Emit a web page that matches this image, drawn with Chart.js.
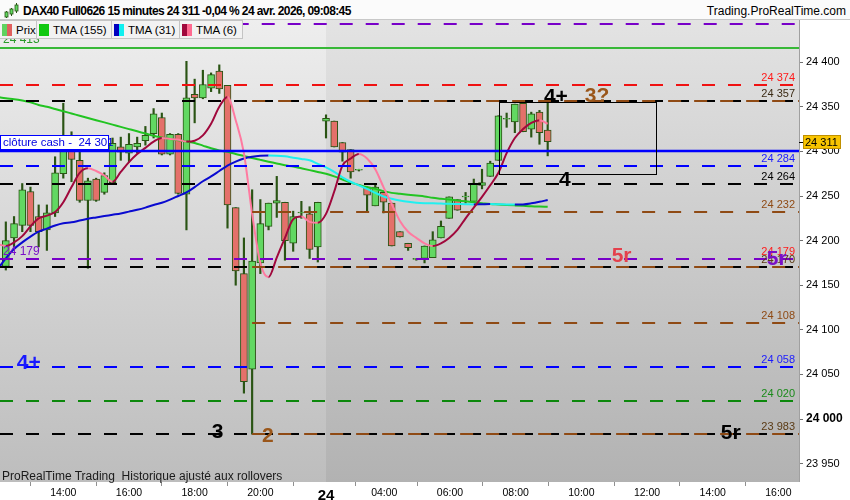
<!DOCTYPE html>
<html><head><meta charset="utf-8">
<script src="https://cdn.jsdelivr.net/npm/chart.js@4.4.1/dist/chart.umd.min.js"></script>
<style>
html,body{margin:0;padding:0;background:#fff;}
#wrap{position:relative;width:850px;height:500px;overflow:hidden;font-family:"Liberation Sans",Arial,sans-serif;}
#c{position:absolute;left:0;top:0;}
#hdr{position:absolute;left:0;top:0;width:850px;height:20px;background:#fbfbfb;border-bottom:1px solid #c8c8c8;box-sizing:border-box;}
#title{position:absolute;left:23px;top:4px;font-size:12px;font-weight:bold;letter-spacing:-0.6px;color:#000;white-space:nowrap;}
#site{position:absolute;right:4px;top:4px;font-size:12px;color:#000;white-space:nowrap;}
#ico{position:absolute;left:3px;top:2px;}
#leg{position:absolute;left:0;top:20px;height:19px;background:#f2f2f2;border:1px solid #c4c4c4;border-left:none;display:flex;font-size:11.5px;color:#000;box-sizing:border-box;}
.it{display:flex;align-items:center;border-right:1px solid #c4c4c4;padding-left:2px;height:17px;box-sizing:border-box;white-space:nowrap;}
.it:last-child{border-right:none;}
.ic{display:inline-block;width:10px;height:12px;margin-right:4px;}
#foot{position:absolute;left:2px;top:469px;font-size:12px;color:#1a1a1a;white-space:nowrap;}
</style></head>
<body>
<div id="wrap">
<canvas id="c" width="850" height="500"></canvas>
<div id="hdr">
<svg id="ico" width="18" height="17"><g stroke="#2a5414" stroke-width="1"><line x1="3.5" y1="9" x2="3.5" y2="16"/><line x1="8.5" y1="6" x2="8.5" y2="14"/><line x1="13.5" y1="1" x2="13.5" y2="11"/></g><rect x="2" y="10" width="3" height="5" fill="#62d862" stroke="#2a5414" stroke-width="0.8"/><rect x="7" y="7" width="3" height="5" fill="#62d862" stroke="#2a5414" stroke-width="0.8"/><rect x="12" y="3" width="3" height="6" fill="#62d862" stroke="#2a5414" stroke-width="0.8"/></svg>
<div id="title">DAX40 Full0626 15 minutes 24 311 -0,04 % 24 avr. 2026, 09:08:45</div>
<div id="site">Trading.ProRealTime.com</div>
</div>
<div id="leg">
<div class="it" style="width:37px"><i class="ic" style="background:linear-gradient(90deg,#5fd35f 50%,#e0605e 50%)"></i>Prix</div>
<div class="it" style="width:75px"><i class="ic" style="background:#10c810"></i>TMA (155)</div>
<div class="it" style="width:68px"><i class="ic" style="background:linear-gradient(90deg,#0000c0 50%,#10f0f0 50%)"></i>TMA (31)</div>
<div class="it" style="width:62px"><i class="ic" style="background:linear-gradient(90deg,#a0083c 50%,#ff6a90 50%)"></i>TMA (6)</div>
</div>
<div id="foot">ProRealTime Trading&nbsp; Historique ajusté aux rollovers</div>
</div>
<script>
// ---- data ----
const candleIndex = [-7,-6,-5,-4,-3,-2,-1,0,1,2,3,4,5,6,7,8,9,10,11,12,13,14,15,16,17,18,19,20,21,22,23,24,25,26,27,28,29,30,31,32,33,34,35,36,37,38,39,40,41,42,43,44,45,46,47,48,49,50,51,52,53,54,55,56,57,58,59];
const openVals  = [24171,24203,24217,24255,24227,24212,24231,24275,24302,24290,24245,24269,24254,24265,24305,24298,24305,24312,24320,24338,24297,24319,24252,24364,24360,24371,24390,24374,24237,24163,24056,24175,24216,24242,24243,24197,24231,24230,24193,24334,24334,24310,24302,24279,24260,24239,24254,24242,24210,24197,24179,24180,24181,24203,24225,24246,24249,24244,24262,24272,24290,24336,24333,24354,24325,24344,24324];
const highVals  = [24221,24227,24264,24260,24240,24240,24294,24354,24322,24300,24270,24270,24276,24315,24316,24320,24316,24328,24348,24343,24320,24320,24401,24381,24391,24388,24397,24374,24237,24203,24257,24246,24242,24272,24243,24233,24244,24238,24243,24341,24334,24310,24302,24280,24260,24262,24254,24242,24210,24197,24180,24194,24210,24222,24249,24246,24254,24269,24280,24289,24340,24343,24353,24354,24344,24346,24355];
const lowVals   = [24167,24193,24210,24210,24193,24189,24227,24270,24266,24243,24169,24244,24252,24264,24290,24288,24298,24307,24315,24296,24296,24252,24212,24332,24359,24367,24365,24214,24150,24029,23983,24163,24212,24226,24178,24188,24225,24180,24176,24315,24305,24289,24270,24278,24232,24239,24231,24194,24204,24189,24178,24175,24181,24203,24225,24234,24242,24244,24258,24272,24290,24327,24321,24322,24316,24308,24295];
const closeVals = [24200,24219,24257,24217,24210,24231,24276,24302,24291,24245,24267,24245,24273,24309,24299,24308,24309,24318,24342,24297,24319,24253,24360,24360,24375,24386,24370,24240,24166,24042,24177,24219,24242,24245,24200,24227,24232,24190,24243,24337,24305,24299,24277,24280,24251,24260,24243,24194,24204,24192,24180,24194,24201,24216,24249,24234,24250,24264,24265,24287,24340,24337,24353,24322,24342,24321,24311];

const maIndex = [-8,-7,-6,-5,-4,-3,-2,-1,0,1,2,3,4,5,6,7,8,9,10,11,12,13,14,15,16,17,18,19,20,21,22,23,24,25,26,27,28,29,30,31,32,33,34,35,36,37,38,39,40,41,42,43,44,45,46,47,48,49,50,51,52,53,54,55,56,57,58,59];
const tma155 = [24361,24359.5,24358.5,24357,24355,24352,24350,24347.5,24345,24342.5,24340,24337.5,24335,24332.5,24330,24327.5,24325,24322.5,24320,24317.5,24315.5,24314,24312.5,24311,24309.5,24306.5,24303.5,24301,24299.5,24297,24295,24292.5,24290.5,24288.5,24286.5,24284.5,24283,24281,24279,24277,24275,24272,24268.5,24265,24262.5,24260,24258,24255.5,24253.5,24252.5,24251.5,24250.5,24249.5,24248,24247,24246,24245,24244,24243,24242,24241,24240.5,24240,24239.5,24239,24238.5,24238.2,24238];
const tma31 = [24168,24180,24190.5,24198,24204.5,24210,24213.5,24217,24219.5,24220.5,24222.5,24224.5,24226,24227.5,24229,24230.5,24232.5,24234.5,24237,24240,24242.5,24246,24250,24254,24260,24266.5,24272,24278,24284,24288.5,24292,24294,24295,24295.3,24295.2,24294.5,24293,24291.5,24290,24286,24282,24277,24271,24266,24262,24258,24253.5,24249.5,24247,24245,24243.5,24242.5,24242,24241.8,24241.5,24241.2,24241,24240.8,24240.5,24240.7,24240.9,24240.7,24240.5,24240.4,24240.6,24241.8,24243.5,24245.5];
const tma6 = [24196,24194,24198,24205,24216,24225,24228,24232,24243,24260,24276,24281,24278,24273,24266,24277,24288,24297,24304,24311,24315,24314,24313,24311,24312,24318,24331,24350,24361,24335,24298,24230,24175,24159,24181,24203,24224,24227,24221,24220,24230,24255,24284,24292,24297,24292,24280,24260,24241,24222,24210,24203,24197,24194,24197,24203,24212,24225,24237,24249,24262,24276,24298,24315,24325,24332,24335,24331];

const xTickPos = [0,8,16,24,32,39.1,47.1,55.1,63.1,71.1,79.1,87.1];
const xTickLabels = ['14:00','16:00','18:00','20:00','24','04:00','06:00','08:00','10:00','12:00','14:00','16:00'];
const yTickValues = [23950,24000,24050,24100,24150,24200,24250,24300,24350,24400];

const levelValues = [24443,24416,24374,24357,24357,24301,24284,24264,24232,24179,24170,24170,24108,24058,24020,23983,23983];
const rightLabelValues = [24374,24357,24284,24264,24232,24179,24170,24108,24058,24020,23983];
const lastPrice = 24311;
const cashClose = 24301;
const cashLabel = 'clôture cash -  24 301';
const leftLabelTexts = ['24 413','24 179'];
const leftLabelValues = [24416,24179];
const annoTexts = ['4+','3?','4','5r','5r','5r','3','2','4+'];
const annoX = [60.0,65.0,61.1,68.0,86.9,81.3,18.8,24.9,-4.2];
const annoY = [24361,24362,24268,24183,24179,23984,23985,23981,24063];
const boxX = [53.1,72.2];
const boxY = [24274,24355];
const sessionStart = 31.96;

// ---- styles (separate from data) ----
const PURPLE='#7800c8', RED='#f01212', BLACK='#000000', BROWN='#8f4a14', BLUE='#0000ff', DGREEN='#0c880c', LGREEN='#38b838';
const levelStyle = [
  {c:PURPLE,dash:true,from:21,w:2},
  {c:LGREEN,dash:false,from:null,w:2},
  {c:RED,dash:true,from:null,w:2},
  {c:BLACK,dash:true,from:null,w:2},
  {c:BROWN,dash:true,from:23,w:2},
  {c:BLUE,dash:false,from:null,w:2.5},
  {c:BLUE,dash:true,from:null,w:2},
  {c:BLACK,dash:true,from:null,w:2},
  {c:BROWN,dash:true,from:23,w:2},
  {c:PURPLE,dash:true,from:null,w:2},
  {c:BLACK,dash:true,from:null,w:2},
  {c:BROWN,dash:true,from:23,w:2},
  {c:BROWN,dash:true,from:23,w:2},
  {c:BLUE,dash:true,from:null,w:2},
  {c:DGREEN,dash:true,from:null,w:2},
  {c:BLACK,dash:true,from:null,w:2},
  {c:BROWN,dash:true,from:23,w:2}
];
const rightLabelColors = ['#ff1a1a','#3b2a14','#1a1aff','#000000','#8f4a14','#ff1a1a','#5a3a14','#8f4a14','#1a1aff','#1a8a1a','#5a3a14'];
const leftLabelColors = ['#2a9a2a','#7a10c8'];
const annoColors = ['#000000','#9a561a','#000000','#e4404c','#7a10c8','#000000','#000000','#9a561a','#1a1aff'];

const fmt = v => { const s = String(Math.round(v)); return s.slice(0, s.length-3) + ' ' + s.slice(-3); };
const FONT = '"Liberation Sans", Arial, sans-serif';
const WICK = '#2a5414';
const UPC = '#62d862', DNC = '#e4706a';

const bgPlugin = {
  id:'bg',
  beforeDraw(chart){
    const {ctx, chartArea:a, scales:{x}} = chart;
    ctx.save();
    ctx.fillStyle='#ffffff'; ctx.fillRect(0,0,chart.width,chart.height);
    const split = Math.round(x.getPixelForValue(sessionStart));
    let g = ctx.createLinearGradient(0,a.top,0,a.bottom);
    g.addColorStop(0,'#eeeeee'); g.addColorStop(1,'#bdbdbd');
    ctx.fillStyle=g; ctx.fillRect(a.left,a.top,split-a.left,a.bottom-a.top);
    let g2 = ctx.createLinearGradient(0,a.top,0,a.bottom);
    g2.addColorStop(0,'#e3e3e3'); g2.addColorStop(1,'#b2b2b2');
    ctx.fillStyle=g2; ctx.fillRect(split,a.top,a.right-split,a.bottom-a.top);
    ctx.restore();
  }
};

const overlayPlugin = {
  id:'overlay',
  afterDatasetsDraw(chart){
    const {ctx, chartArea:a, scales:{x,y}} = chart;
    ctx.save();
    ctx.beginPath(); ctx.rect(a.left,a.top,a.right-a.left,a.bottom-a.top); ctx.clip();
    levelValues.forEach((v,k)=>{
      const s = levelStyle[k];
      const py = Math.round(y.getPixelForValue(v));
      const x0 = s.from===null ? a.left : x.getPixelForValue(s.from);
      ctx.strokeStyle = s.c; ctx.lineWidth = s.w;
      ctx.setLineDash(s.dash ? [13,13] : []);
      ctx.lineDashOffset = 0;
      ctx.beginPath(); ctx.moveTo(x0, py); ctx.lineTo(a.right, py); ctx.stroke();
    });
    ctx.setLineDash([]);
    const bx0 = x.getPixelForValue(boxX[0]), bx1 = x.getPixelForValue(boxX[1]);
    const by0 = y.getPixelForValue(boxY[1]), by1 = y.getPixelForValue(boxY[0]);
    ctx.strokeStyle='#000'; ctx.lineWidth=1;
    ctx.strokeRect(Math.round(bx0)+0.5, Math.round(by0)+0.5, Math.round(bx1-bx0), Math.round(by1-by0));
    ctx.font = '11px '+FONT; ctx.textAlign='right'; ctx.textBaseline='middle';
    rightLabelValues.forEach((v,k)=>{
      ctx.fillStyle = rightLabelColors[k];
      ctx.fillText(fmt(v), a.right-4, y.getPixelForValue(v)-7);
    });
    ctx.textAlign='left';
    ctx.font = '12px '+FONT;
    leftLabelTexts.forEach((t,k)=>{
      ctx.fillStyle = leftLabelColors[k];
      ctx.fillText(t, 3, y.getPixelForValue(leftLabelValues[k])-8);
    });
    const cy = Math.round(y.getPixelForValue(cashClose));
    ctx.fillStyle='#ffffff'; ctx.fillRect(0, cy-16, 109, 15);
    ctx.strokeStyle='#0000ff'; ctx.lineWidth=1; ctx.strokeRect(0.5, cy-15.5, 108, 14);
    ctx.fillStyle='#0000e0'; ctx.font = '11.5px '+FONT; ctx.fillText(cashLabel, 3, cy-8);
    ctx.font = 'bold 21px '+FONT; ctx.textAlign='center'; ctx.textBaseline='middle';
    annoTexts.forEach((t,k)=>{
      ctx.fillStyle = annoColors[k];
      ctx.fillText(t, x.getPixelForValue(annoX[k]), y.getPixelForValue(annoY[k]));
    });
    ctx.restore();
  },
  afterDraw(chart){
    const {ctx, chartArea:a, scales:{y}} = chart;
    ctx.save();
    ctx.strokeStyle='#a0a0a0'; ctx.lineWidth=1;
    ctx.beginPath(); ctx.moveTo(a.right+0.5, a.top); ctx.lineTo(a.right+0.5, a.bottom); ctx.stroke();
    const py = Math.round(y.getPixelForValue(lastPrice));
    ctx.fillStyle='#f8c400'; ctx.fillRect(a.right+4, py-7, 38, 14);
    ctx.strokeStyle='#c09000'; ctx.strokeRect(a.right+4.5, py-6.5, 37, 13);
    ctx.strokeStyle='#000'; ctx.beginPath(); ctx.moveTo(a.right, py+0.5); ctx.lineTo(a.right+4, py+0.5); ctx.stroke();
    ctx.fillStyle='#000'; ctx.font='11px '+FONT; ctx.textAlign='left'; ctx.textBaseline='middle';
    ctx.fillText(fmt(lastPrice), a.right+6, py+0.5);
    ctx.restore();
  }
};

const upDown = (up, dn) => ({ borderColor: c => (c.p1.parsed.y >= c.p0.parsed.y ? up : dn) });

new Chart(document.getElementById('c'), {
  type:'bar',
  data:{ datasets:[
    { type:'bar', label:'wick', data: candleIndex.map((xv,k)=>({x:xv, y:[lowVals[k], highVals[k]]})),
      backgroundColor: WICK, barThickness:1.5, grouped:false, order:6 },
    { type:'bar', label:'body', data: candleIndex.map((xv,k)=>({x:xv, y:[openVals[k], closeVals[k]]})),
      backgroundColor: candleIndex.map((xv,k)=> closeVals[k] >= openVals[k] ? UPC : DNC),
      borderColor: WICK, borderWidth:1, borderSkipped:false, barThickness:7, grouped:false, order:5 },
    { type:'line', label:'TMA (155)', data: maIndex.map((xv,k)=>({x:xv, y:tma155[k]})),
      borderColor:'#22c422', borderWidth:2, pointRadius:0, cubicInterpolationMode:'monotone', order:3 },
    { type:'line', label:'TMA (31)', data: maIndex.map((xv,k)=>({x:xv, y:tma31[k]})),
      borderColor:'#0a0ad0', segment: upDown('#0a0ad0','#20f0f0'), borderWidth:2, pointRadius:0, cubicInterpolationMode:'monotone', order:2 },
    { type:'line', label:'TMA (6)', data: maIndex.map((xv,k)=>({x:xv, y:tma6[k]})),
      borderColor:'#a0083c', segment: upDown('#a0083c','#ff7aa0'), borderWidth:2, pointRadius:0, cubicInterpolationMode:'monotone', order:1 }
  ]},
  options:{
    responsive:false, animation:false, devicePixelRatio:1,
    layout:{ padding:{ top:20, left:0, right:0, bottom:0 } },
    plugins:{ legend:{display:false}, tooltip:{enabled:false} },
    scales:{
      x:{ type:'linear', min:-7.71, max:89.61, offset:false,
        grid:{ display:true, drawOnChartArea:false, drawTicks:true, tickLength:4, color:'#909090' },
        border:{ display:false },
        afterBuildTicks: ax => { ax.ticks = xTickPos.map(v=>({value:v})); },
        afterFit: ax => { ax.height = 18; },
        ticks:{ autoSkip:false, maxRotation:0, minRotation:0, padding:1, color:'#000',
          font: c => (c.index===4 ? {family:FONT, size:15, weight:'bold'} : {family:FONT, size:10.5}),
          callback: (v, i) => xTickLabels[i] }
      },
      y:{ type:'linear', position:'right', min:23929.4, max:24447.3,
        grid:{ display:true, drawOnChartArea:false, drawTicks:true, tickLength:4, color:'#707070' },
        border:{ display:false },
        afterBuildTicks: ax => { ax.ticks = yTickValues.map(v=>({value:v})); },
        afterFit: ax => { ax.width = 51; },
        ticks:{ padding:3, color:'#000',
          font: c => (c.tick && c.tick.value===24000 ? {family:FONT, size:12, weight:'bold'} : {family:FONT, size:11}),
          callback: v => fmt(v) }
      }
    }
  },
  plugins:[bgPlugin, overlayPlugin]
});
</script>
</body></html>
